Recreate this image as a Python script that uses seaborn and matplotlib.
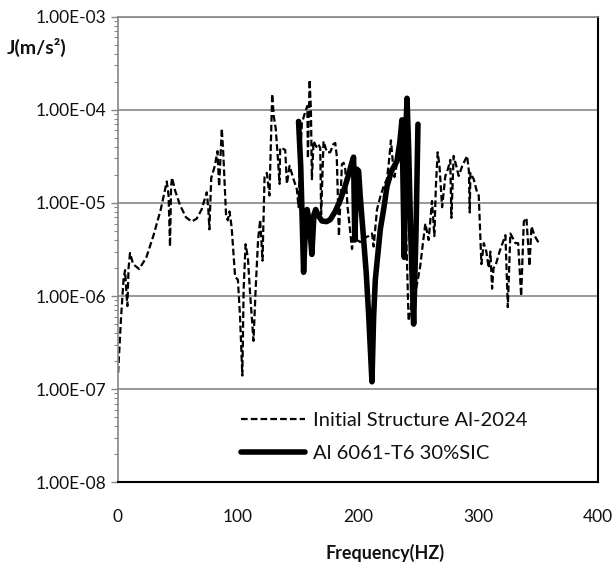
import matplotlib
matplotlib.use("Agg")
import matplotlib.pyplot as plt
import numpy as np
import pandas as pd
import seaborn as sns
from matplotlib.ticker import FixedLocator, FixedFormatter, LogLocator, NullFormatter

# ---- data ----
series_names = ["Initial Structure Al-2024", "Al 6061-T6 30%SIC"]

freq_al2024 = [0.5, 3, 5, 6.3, 7.2, 8.2, 9.2, 10.4, 13, 18, 24, 30, 36, 41, 42.5, 43.7, 44.6, 45.4,
               48, 52, 57, 61.8, 66, 70, 74.3, 75.5, 76.5, 78, 81, 83.2, 84.6, 86.8, 88, 90.4, 91.8,
               93.2, 95, 97.9, 100.2, 102, 103.9, 105, 106.6, 108.5, 110.5, 113.2, 115, 117, 118.75,
               120.7, 122.4, 124.3, 126.5, 128.75, 130.1, 131.7, 133.5, 134.9, 135.4, 138, 139.6, 141,
               143.2, 146.5, 149.3, 150.7, 152, 153.5, 156.25, 158, 158.5, 159.9, 161, 161.8, 163.2,
               165.5, 167, 168.75, 169.5, 171.5, 174.3, 177, 179.8, 181.25, 182.5, 184.3, 186.8, 188.2,
               189.6, 191.5, 193, 195.2, 197, 199.3, 202, 205, 209, 211.8, 213.2, 216, 219, 221.5,
               224.2, 225.7, 227.6, 229.3, 230.5, 233, 235.5, 237.5, 239, 240.3, 242.3, 244, 246, 248,
               250, 252, 254, 256.25, 259, 261.8, 263.75, 265, 266.5, 268, 270.2, 272.9, 275, 277,
               277.9, 279.8, 282, 284, 287, 291, 292.5, 293.2, 293.75, 296.5, 299.3, 300.7, 302.9,
               304.9, 307, 309, 310.4, 311.8, 313, 314.6, 318, 322.9, 324.9, 327, 329, 331.25, 333.5,
               336, 338.2, 340.4, 342.9, 344.6, 347, 350.7]
j_al2024 = [1.5e-7, 6e-7, 1.5e-6, 1.9e-6, 1.2e-6, 7.8e-7, 2.0e-6, 2.9e-6, 2.2e-6, 1.95e-6, 2.6e-6,
            4.5e-6, 8.5e-6, 1.7e-5, 1.2e-5, 3.4e-6, 1.5e-5, 1.87e-5,
            1.35e-5, 9.5e-6, 7e-6, 6.3e-6, 6.8e-6, 8.5e-6, 1.3e-5, 9e-6, 5.2e-6, 1.85e-5, 2.5e-5,
            3.6e-5, 1.5e-5, 6.3e-5, 3.5e-5, 7.2e-6, 6.5e-6,
            8.1e-6, 5.5e-6, 1.6e-6, 1.5e-6, 6e-7, 1.4e-7, 1.2e-6, 3.6e-6, 2.6e-6, 1e-6, 3.3e-7,
            1.2e-6, 4e-6, 6.6e-6,
            2.4e-6, 1.9e-5, 2.1e-5, 1.2e-5, 1.48e-4, 8.5e-5, 6.3e-5, 3.0e-5, 1.6e-5, 3.9e-5, 3.8e-5,
            3.7e-5, 1.6e-5,
            2.5e-5, 1.8e-5, 1.4e-5, 9e-6, 3e-5, 7.2e-5, 9.5e-5, 1.1e-4, 3e-5, 2.1e-4, 1e-4, 1.8e-5,
            4.6e-5,
            4e-5, 4.3e-5, 3.9e-5, 7.5e-6, 4.6e-5, 3.5e-5, 3.5e-5, 4.3e-5, 4.4e-5, 3.2e-5, 4.4e-6,
            2.6e-5, 2.7e-5,
            2.3e-5, 9e-6, 6e-6, 3.2e-6, 5e-6, 4e-6, 3.8e-6, 4.2e-6, 4.4e-6, 4.7e-6, 3.4e-6, 8.5e-6,
            1.2e-5, 1.5e-5,
            1.8e-5, 2.6e-5, 4.7e-5, 2.6e-5, 1.9e-5, 2.8e-5, 4.5e-5, 7e-5, 2e-5, 5e-6, 5.4e-7, 7e-7,
            1.2e-6, 1.1e-6,
            1.5e-6, 2.1e-6, 3.5e-6, 6e-6, 4e-6, 1.05e-5, 4.4e-6, 1.5e-5, 3.5e-5, 2.5e-5, 9e-6,
            1.95e-5, 2.3e-5, 2.9e-5,
            6.9e-6, 3.2e-5, 2.5e-5, 1.95e-5, 2.5e-5, 3.2e-5, 2.2e-5, 7.9e-6, 2.1e-5, 1.8e-5, 1.3e-5,
            1.2e-5, 2.2e-6,
            3.7e-6, 3.0e-6, 2.0e-6, 3.0e-6, 1.2e-6, 2.0e-6, 2.1e-6, 3.0e-6, 4.5e-6, 7.6e-7, 4.7e-6,
            4.2e-6, 3.7e-6, 3.7e-6,
            1.0e-6, 6.3e-6, 6.9e-6, 2.1e-6, 5.6e-6, 4.5e-6, 3.7e-6]

freq_sic = [150.7, 152.5, 153.8, 154.9, 156.3, 157.8, 159.5, 161.8, 163.5, 165, 167.5, 170.2, 174,
            177, 181, 185.4, 189, 192.3, 195, 196.5, 197.5, 199.3, 200.7, 202, 204.9, 207, 209,
            211.8, 213.2, 214.6, 218.75, 221.5, 224.3, 228, 232.6, 235, 236.8, 238.7, 240, 241,
            242.3, 244, 246.5, 248.5, 250.1]
j_sic = [7.5e-5, 2.5e-5, 6e-6, 1.8e-6, 5e-6, 8.5e-6, 6.5e-6, 2.8e-6, 7.5e-6, 8.5e-6, 7.2e-6, 6.4e-6,
         6.3e-6, 6.6e-6, 8e-6, 1.07e-5, 1.45e-5, 2.0e-5, 2.7e-5, 3.1e-5, 4e-6, 2.3e-5, 2.2e-5,
         1.2e-5, 4e-6, 1.8e-6, 6.5e-7, 1.2e-7, 6e-7, 1.5e-6, 5.2e-6, 8.5e-6, 1.5e-5, 2.2e-5,
         2.8e-5, 4.5e-5, 7.8e-5, 2.6e-6, 6e-5, 1.33e-4, 4e-5, 5e-6, 5e-7, 5e-6, 7e-5]

x_ticks = [0, 100, 200, 300, 400]
y_ticks = [1e-8, 1e-7, 1e-6, 1e-5, 1e-4, 1e-3]
y_tick_labels = ["1.00E-08", "1.00E-07", "1.00E-06", "1.00E-05", "1.00E-04", "1.00E-03"]
x_title = "Frequency(HZ)"
y_title = "J(m/s²)"

# ---- style ----
sns.set_theme(style="white")
plt.rcParams["font.family"] = ["Lato", "DejaVu Sans"]
GRAY = "#868686"
TXT = "#111111"

fig = plt.figure(figsize=(6.13, 5.64), dpi=100)
ax = fig.add_axes([0.1917, 0.1449, 0.7839, 0.8255])

df1 = pd.DataFrame({"Frequency": freq_al2024, "J": j_al2024})
df2 = pd.DataFrame({"Frequency": freq_sic, "J": j_sic})

sns.lineplot(data=df1, x="Frequency", y="J", ax=ax, color="black", linewidth=1.6,
             linestyle=(0, (3, 1.4)), estimator=None, sort=False, label=series_names[0])
sns.lineplot(data=df2, x="Frequency", y="J", ax=ax, color="black", linewidth=4.0,
             solid_joinstyle="round", solid_capstyle="round",
             estimator=None, sort=False, label=series_names[1])

ax.set_yscale("log")
ax.set_xlim(0, 400)
ax.set_ylim(1e-8, 1e-3)

ax.xaxis.set_major_locator(FixedLocator(x_ticks))
ax.set_xticklabels([str(v) for v in x_ticks])
ax.yaxis.set_major_locator(FixedLocator(y_ticks))
ax.yaxis.set_major_formatter(FixedFormatter(y_tick_labels))
ax.yaxis.set_minor_locator(LogLocator(base=10, subs=np.arange(2, 10), numticks=20))
ax.yaxis.set_minor_formatter(NullFormatter())

ax.tick_params(axis="x", which="both", length=0, pad=19, labelsize=12.5, labelcolor=TXT)
ax.tick_params(axis="y", which="major", direction="out", length=5, width=1.0, color=GRAY,
               pad=3, labelsize=12.5, labelcolor=TXT, left=True)
ax.tick_params(axis="y", which="minor", direction="out", length=3, width=0.8, color=GRAY, left=True)

ax.yaxis.grid(True, which="major", color=GRAY, linewidth=1.2)
ax.xaxis.grid(False)
ax.set_axisbelow(True)

for side in ["left", "top"]:
    ax.spines[side].set_color(GRAY)
    ax.spines[side].set_linewidth(1.2)
for side in ["right", "bottom"]:
    ax.spines[side].set_color("black")
    ax.spines[side].set_linewidth(1.5)

ax.set_xlabel("")
ax.set_ylabel("")

fig.text(7 / 613, 1 - 47 / 564, y_title, fontsize=14, fontweight="bold", color=TXT,
         ha="left", va="center")
fig.text(385 / 613, 1 - 553 / 564, x_title, fontsize=12.9, fontweight="bold", color=TXT,
         ha="center", va="center")

handles, labels = ax.get_legend_handles_labels()
ax.legend(handles, labels, loc="center left", bbox_to_anchor=(0.257, 0.098), frameon=False,
          handlelength=3.2, handletextpad=0.38, labelspacing=0.8, borderpad=0, borderaxespad=0,
          fontsize=14.5, labelcolor=TXT)

fig.savefig("out.png", dpi=100)
